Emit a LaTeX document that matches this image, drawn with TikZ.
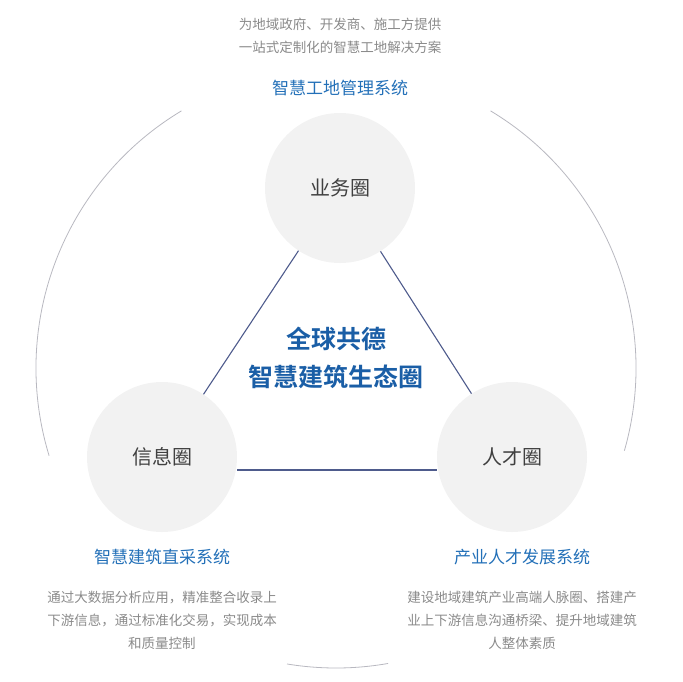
\documentclass[tikz,border=0pt]{standalone}
\usepackage{fontspec}
\setmainfont{Noto Sans CJK SC}
\newfontfamily\cjkbold{Noto Sans CJK SC Bold}
\definecolor{ttl}{HTML}{2370B8}
\definecolor{ctr}{HTML}{1A5EA6}
\definecolor{gtx}{HTML}{8A8A8A}
\definecolor{lnc}{HTML}{4E5B8C}
\definecolor{circ}{HTML}{F2F2F2}
\definecolor{arcc}{HTML}{B8B8C0}
\begin{document}
\begin{tikzpicture}[x=1pt,y=-1pt,
  ring/.style={circle,fill=circ,minimum size=150pt,inner sep=0pt,font=\fontsize{20}{20}\selectfont,text=black!75},
  ttlstyle/.style={font=\fontsize{17}{17}\selectfont,text=ttl},
  desc/.style={font=\fontsize{13.5}{23}\selectfont,text=gtx,align=center},
  link/.style={draw=lnc,line width=1.1pt},
  arcline/.style={draw=arcc,line width=0.8pt}]
\useasboundingbox (0,0) rectangle (683,681);
\coordinate (c) at (336,368);
\begin{scope}[shift={(c)},x=1pt,y=1pt]
\draw[arcline] (121:300pt) arc[start angle=121,end angle=197,radius=300pt];
\draw[arcline] (59:300pt) arc[start angle=59,end angle=-16,radius=300pt];
\draw[arcline] (260.6:300pt) arc[start angle=260.6,end angle=280,radius=300pt];
\end{scope}
\node[ring] (biz) at (340,188) {业务圈};
\node[ring] (info) at (162,457) {信息圈};
\node[ring] (tal) at (512,457) {人才圈};
\draw[link] (biz) -- (info);
\draw[link] (biz) -- (tal);
\draw[link] ([yshift=-13pt]info.east) -- ([yshift=-13pt]tal.west);
\node[desc] (d1) at (340,36) {为地域政府、开发商、施工方提供\\一站式定制化的智慧工地解决方案};
\node[ttlstyle] (t1) at (340,88) {智慧工地管理系统};
\node[font=\cjkbold\fontsize{25}{38}\selectfont,text=ctr,align=center] (mid) at (336,358) {全球共德\\智慧建筑生态圈};
\node[ttlstyle] (t2) at (162,557) {智慧建筑直采系统};
\node[ttlstyle] (t3) at (522,557) {产业人才发展系统};
\node[desc] (d2) at (162,620) {通过大数据分析应用，精准整合收录上\\下游信息，通过标准化交易，实现成本\\和质量控制};
\node[desc] (d3) at (522,620) {建设地域建筑产业高端人脉圈、搭建产\\业上下游信息沟通桥梁、提升地域建筑\\人整体素质};
\end{tikzpicture}
\end{document}
